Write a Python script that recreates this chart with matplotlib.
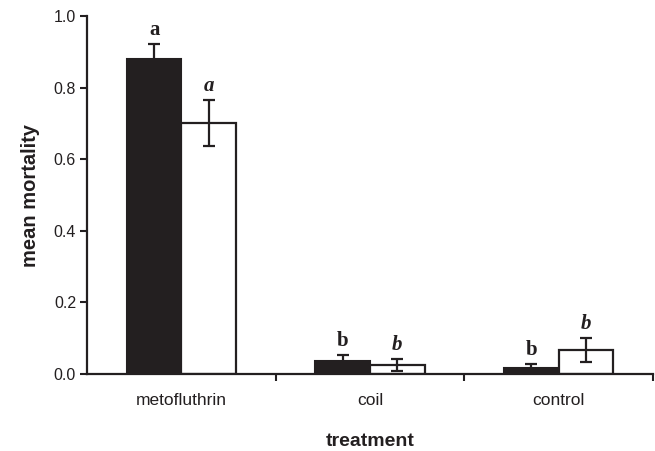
import matplotlib
matplotlib.use("Agg")
import matplotlib.pyplot as plt
import numpy as np

categories = ["metofluthrin", "coil", "control"]
black_vals = [0.880, 0.036, 0.018]
black_err = [0.041, 0.017, 0.011]
white_vals = [0.700, 0.026, 0.067]
white_err = [0.064, 0.017, 0.034]
black_letters = ["a", "b", "b"]
white_letters = ["a", "b", "b"]
yticks = [0.0, 0.2, 0.4, 0.6, 0.8, 1.0]

INK = "#231f20"
fig = plt.figure(figsize=(6.55, 4.51), dpi=100)
ax = fig.add_axes([0.133, 0.1707, 0.864, 0.7938])

x = np.arange(len(categories)) + 0.5
w = 0.29
ek = dict(ecolor=INK, elinewidth=1.6, capsize=4.5, capthick=1.6)
ax.bar(x - w / 2, black_vals, w, color=INK, edgecolor=INK,
       linewidth=1.5, zorder=2)
ax.bar(x + w / 2, white_vals, w, color="white", edgecolor=INK,
       linewidth=1.6, zorder=2)
ax.errorbar(x - w / 2, black_vals, yerr=black_err, fmt="none", zorder=3, **ek)
ax.errorbar(x + w / 2, white_vals, yerr=white_err, fmt="none", zorder=3, **ek)

for xi, v, e, t in zip(x - w / 2, black_vals, black_err, black_letters):
    ax.annotate(t, (xi, v + e), xytext=(0, 6.5), textcoords="offset points",
                ha="center", va="baseline", family="Liberation Serif",
                fontweight="bold", fontsize=15, color=INK)
for xi, v, e, t in zip(x + w / 2, white_vals, white_err, white_letters):
    ax.annotate(t, (xi, v + e), xytext=(0, 6.5), textcoords="offset points",
                ha="center", va="baseline", family="Liberation Serif",
                fontweight="bold", fontstyle="italic", fontsize=15,
                color=INK)

ax.set_xlim(0, 3)
ax.set_ylim(0, 1.0)
ax.set_yticks(yticks)
ax.set_yticklabels([f"{t:.1f}" for t in yticks], family="Liberation Sans",
                   fontsize=11.5, color=INK)
ax.set_xticks(x)
ax.set_xticklabels(categories, family="Liberation Sans", fontsize=12.5,
                   color=INK)
ax.tick_params(axis="x", which="major", length=0, pad=14)
ax.set_xticks([1, 2, 3], minor=True)
ax.tick_params(axis="x", which="minor", length=5, width=1.5, direction="out",
               color=INK)
ax.tick_params(axis="y", length=5, width=1.5, direction="out",
               color=INK, pad=3)

for s in ["top", "right"]:
    ax.spines[s].set_visible(False)
for s in ["left", "bottom"]:
    ax.spines[s].set_linewidth(1.6)
    ax.spines[s].set_color(INK)

ax.set_ylabel("mean mortality", family="Liberation Sans", fontweight="bold",
              fontsize=14.5, color=INK, labelpad=10)
ax.set_xlabel("treatment", family="Liberation Sans", fontweight="bold",
              fontsize=14, color=INK, labelpad=18)

fig.savefig("out.png", dpi=100)
